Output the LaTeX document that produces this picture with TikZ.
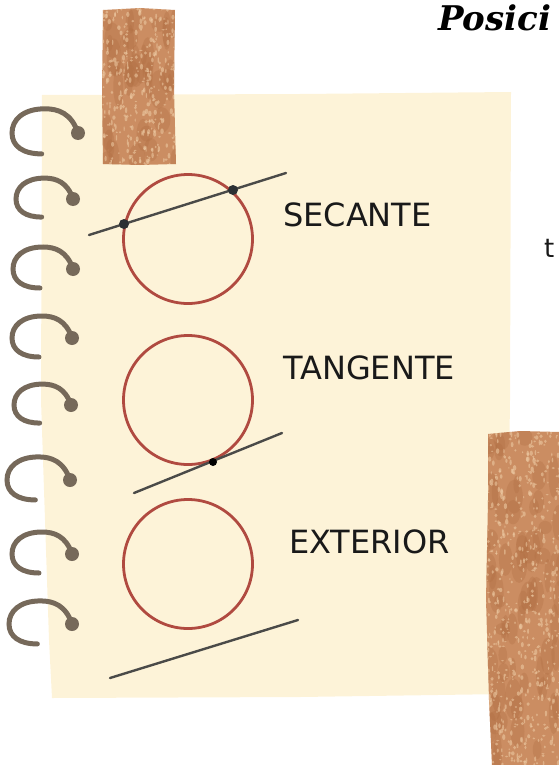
\documentclass[tikz,border=0pt]{standalone}
\usepackage{fontspec}
\setmainfont{DejaVu Sans}
\newfontfamily\titlefont{DejaVu Serif}
\definecolor{paper}{HTML}{FDF3D8}
\definecolor{ringc}{HTML}{76695A}
\definecolor{circc}{HTML}{B04A40}
\definecolor{linec}{HTML}{4A4A48}
\definecolor{ptc}{HTML}{2C3033}
\definecolor{tape}{HTML}{CB8D62}
\definecolor{tapedark}{HTML}{B06E42}
\definecolor{tapelight}{HTML}{EFCDA6}
\begin{document}
\begin{tikzpicture}[x=1pt,y=-1pt,
  ring/.style={draw=ringc,line width=5pt,line cap=round},
  ringdot/.style={circle,fill=ringc,inner sep=0pt,minimum size=14pt},
  geo/.style={circle,draw=circc,line width=2.8pt,minimum size=129pt,inner sep=0pt},
  ray/.style={draw=linec,line width=2.4pt,line cap=round},
  pt/.style={circle,fill=ptc,inner sep=0pt,minimum size=10pt},
  label/.style={anchor=west,inner sep=0pt,text=black!90,font=\fontsize{32}{38}\selectfont}]
\useasboundingbox (0,0) rectangle (558,765);

% sheet of paper
\fill[paper] (42,95) -- (300,94) -- (511,92) -- (510,400) -- (506,694)
  -- (300,697) -- (52,698) -- (49,640) -- (41,400) -- cycle;

% spiral binding
\foreach \x/\y/\s [count=\i] in {78/133/1.1, 73/199/0.95, 73/269/1.0, 72/338/1.0,
    71/405/0.95, 70/480/1.05, 72/554/1.0, 72/624/1.05}{
  \draw[ring] (\x,\y) .. controls ({\x-6*\s},{\y-18*\s}) and ({\x-18*\s},{\y-22*\s})
    .. ({\x-30*\s},{\y-22*\s}) .. controls ({\x-50*\s},{\y-22*\s}) and ({\x-60*\s},{\y-12*\s})
    .. ({\x-60*\s},\y) .. controls ({\x-60*\s},{\y+12*\s}) and ({\x-50*\s},{\y+19*\s})
    .. ({\x-33*\s},{\y+19*\s});
  \node[ringdot] (dot\i) at (\x,\y) {};
}

% tape pieces
\pgfmathsetseed{42}
\begin{scope}
  \clip (103,10) -- (140,8) -- (175,10) -- (174,90) -- (176,164) -- (140,165) -- (103,164) -- (102,90) -- cycle;
  \fill[tape] (90,0) rectangle (190,180);
  \foreach \i in {1,...,40}{
    \fill[tapedark,opacity=0.3] ({102+73*rnd},{8+157*rnd}) ellipse ({3+6*rnd} and {6+14*rnd});
  }
  \foreach \i in {1,...,340}{
    \fill[tapelight,opacity=0.55] ({102+73*rnd},{8+157*rnd}) ellipse ({0.6+1.2*rnd} and {0.6+2.4*rnd});
  }
\end{scope}
\begin{scope}
  \clip (488,434) -- (520,431) -- (560,432) -- (560,765) -- (492,765) -- (489,700) -- (486,600) -- (488,500) -- cycle;
  \fill[tape] (480,425) rectangle (565,770);
  \foreach \i in {1,...,70}{
    \fill[tapedark,opacity=0.3] ({485+75*rnd},{432+333*rnd}) ellipse ({3+6*rnd} and {6+16*rnd});
  }
  \foreach \i in {1,...,600}{
    \fill[tapelight,opacity=0.55] ({485+75*rnd},{432+333*rnd}) ellipse ({0.6+1.2*rnd} and {0.6+2.4*rnd});
  }
\end{scope}

% title and side text
\node[anchor=base west,inner sep=0pt,font=\titlefont\bfseries\itshape\fontsize{34}{40}\selectfont] (title) at (438,31) {Posici};
\node[anchor=base west,inner sep=0pt,font=\fontsize{26}{30}\selectfont,text=black!90] (sidet) at (544,257) {t};

% secant
\node[geo] (c1) at (188,239) {};
\coordinate (s1) at (89,235);
\coordinate (s2) at (286,173);
\draw[ray] (s1) -- (s2);
\node[pt] (p1) at (124,224) {};
\node[pt] (p2) at (233,190) {};
\node[label] (lsec) at (283,215) {SECANTE};

% tangent
\node[geo] (c2) at (188,400) {};
\coordinate (t1) at (134,493);
\coordinate (t2) at (282,433);
\draw[ray] (t1) -- (t2);
\node[pt,fill=black,minimum size=8pt] (p3) at (213,462) {};
\node[label] (ltan) at (283,368) {TANGENTE};

% exterior
\node[geo] (c3) at (188,564) {};
\coordinate (e1) at (110,678);
\coordinate (e2) at (298,620);
\draw[ray] (e1) -- (e2);
\node[label] (lext) at (289,542) {EXTERIOR};
\end{tikzpicture}
\end{document}
